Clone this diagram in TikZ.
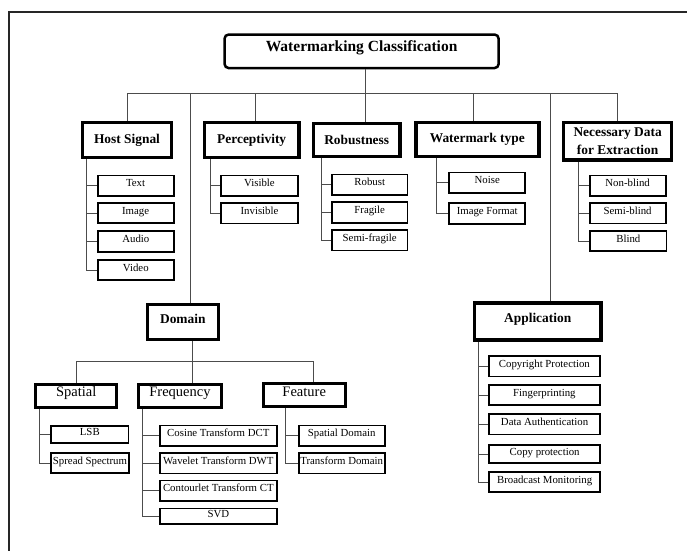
\documentclass[tikz,border=0pt]{standalone}
\usepackage{fontspec}
\setmainfont{Liberation Serif}

\begin{document}
\begin{tikzpicture}[x=1pt, y=-1pt,
    root/.style={draw=black, line width=2.5pt, rounded corners=4pt,
        minimum width=274pt, minimum height=33.5pt, inner sep=1pt,
        font=\fontsize{15.5}{18}\selectfont\bfseries, text height=5pt, text depth=5pt},
    head/.style={draw=black, line width=3.5pt, inner sep=1pt,
        font=\fontsize{13.4}{18}\selectfont\bfseries},
    sub/.style={draw=black, line width=3pt, inner sep=1pt, minimum height=23.5pt,
        font=\fontsize{14.5}{16}\selectfont, text height=5pt, text depth=3pt},
    leaf/.style={draw=black, line width=1.8pt, inner sep=1pt, minimum height=20.5pt,
        font=\fontsize{10.8}{12}\selectfont, text height=6pt, text depth=4pt},
    edge/.style={draw=black!70, line width=0.9pt},
    frame/.style={draw=black!85, line width=2.6pt}
]
    \useasboundingbox (0,0) rectangle (687,550);
    \draw[frame] (9,551) -- (9,12) -- (688,12);

    \node[root] (title) at (361.6,51.3) {Watermarking Classification};

    \node[head, minimum width=89pt, minimum height=35pt] (host) at (127,140) {Host Signal};
    \node[head, minimum width=94.5pt, minimum height=35pt] (perc) at (251.7,140) {Perceptivity};
    \node[head, minimum width=86.5pt, minimum height=33pt] (robust) at (356.7,140) {Robustness};
    \node[head, minimum width=123pt, minimum height=34pt] (wtype) at (477.3,139.5) {Watermark type};
    \node[head, minimum width=108pt, minimum height=37.5pt, align=center] (ndata) at (617.6,141.2) {Necessary Data\\for Extraction};
    \node[head, minimum width=71pt, minimum height=35pt, text depth=6.5pt] (domain) at (182.8,322) {Domain};
    \node[head, minimum width=126.5pt, minimum height=37pt, text depth=6.5pt] (app) at (537.7,321.3) {Application};

    \node[sub, minimum width=81pt] (spatial) at (76.3,395.8) {Spatial};
    \node[sub, minimum width=82.4pt] (freq) at (180,395.8) {Frequency};
    \node[sub, minimum width=82pt] (feature) at (304.2,395) {Feature};

    % host signal
    \node[leaf, minimum width=76pt] (text) at (135.6,185.7) {Text};
    \node[leaf, minimum width=76pt] (image) at (135.6,213) {Image};
    \node[leaf, minimum width=76pt] (audio) at (135.8,241.5) {Audio};
    \node[leaf, minimum width=76pt] (video) at (135.8,270) {Video};
    % perceptivity
    \node[leaf, minimum width=76.5pt] (visible) at (259.5,185.7) {Visible};
    \node[leaf, minimum width=76.5pt] (invisible) at (259.5,213.3) {Invisible};
    % robustness
    \node[leaf, minimum width=75.5pt] (rob) at (369.7,184.7) {Robust};
    \node[leaf, minimum width=75.5pt] (fragile) at (369.7,212.5) {Fragile};
    \node[leaf, minimum width=75.5pt] (semifrag) at (369.7,240.3) {Semi-fragile};
    % watermark type
    \node[leaf, minimum width=76pt] (noise) at (487.2,182.7) {Noise};
    \node[leaf, minimum width=76pt] (imgfmt) at (487.2,213.5) {Image Format};
    % necessary data
    \node[leaf, minimum width=76pt] (nonblind) at (627.6,185.7) {Non-blind};
    \node[leaf, minimum width=76pt] (semiblind) at (627.6,213.2) {Semi-blind};
    \node[leaf, minimum width=76.5pt] (blind) at (628.3,241) {Blind};
    % spatial
    \node[leaf, minimum width=77.5pt, minimum height=17.5pt] (lsb) at (89.8,434.5) {LSB};
    \node[leaf, minimum width=78pt, minimum height=20pt] (spread) at (90,463.3) {Spread Spectrum};
    % frequency
    \node[leaf, minimum width=117pt] (dct) at (218.3,435.8) {Cosine Transform DCT};
    \node[leaf, minimum width=117pt] (dwt) at (218.3,463.3) {Wavelet Transform DWT};
    \node[leaf, minimum width=117pt] (ct) at (218.3,490.8) {Contourlet Transform CT};
    \node[leaf, minimum width=117pt, minimum height=15.5pt] (svd) at (218.3,516.3) {SVD};
    % feature
    \node[leaf, minimum width=86pt] (spdom) at (341.7,435.8) {Spatial Domain};
    \node[leaf, minimum width=86pt] (trdom) at (341.7,463.3) {Transform Domain};
    % application
    \node[leaf, minimum width=111pt] (copyright) at (544.4,366.3) {Copyright Protection};
    \node[leaf, minimum width=111pt] (finger) at (544.4,395) {Fingerprinting};
    \node[leaf, minimum width=111pt] (dataauth) at (544.6,424.3) {Data Authentication};
    \node[leaf, minimum width=111pt, minimum height=18pt] (copyprot) at (544.6,454) {Copy protection};
    \node[leaf, minimum width=111pt] (broadcast) at (544.6,482) {Broadcast Monitoring};

    % top level
    \coordinate (hub) at (365.5,93);
    \draw[edge] (title.south -| hub) -- (hub);
    \draw[edge] (host.north |- hub) -- (ndata.north |- hub);
    \draw[edge] (host.north |- hub) -- (host.north);
    \draw[edge] ([xshift=3.5pt]perc.north |- hub) -- ([xshift=3.5pt]perc.north);
    \draw[edge] (hub) -- (hub |- robust.north);
    \draw[edge] ([xshift=-4pt]wtype.north |- hub) -- ([xshift=-4pt]wtype.north);
    \draw[edge] (ndata.north |- hub) -- (ndata.north);
    \draw[edge] ([xshift=8pt]domain.north |- hub) -- ([xshift=8pt]domain.north);
    \draw[edge] ([xshift=13pt]app.north |- hub) -- ([xshift=13pt]app.north);

    % domain
    \coordinate (dhub) at (192.7,361);
    \draw[edge] (dhub |- domain.south) -- (dhub);
    \draw[edge] (spatial.north) |- (dhub);
    \draw[edge] (dhub) -| ([xshift=9pt]feature.north);
    \draw[edge] (dhub) -- (dhub |- freq.north);

    % host signal tree
    \draw[edge] ([xshift=-10pt]text.west |- host.south) |- (video.west);
    \draw[edge] ([xshift=-10pt]text.west) -- (text.west);
    \draw[edge] ([xshift=-10pt]image.west) -- (image.west);
    \draw[edge] ([xshift=-10pt]audio.west) -- (audio.west);
    % perceptivity tree
    \draw[edge] ([xshift=-10pt]visible.west |- perc.south) |- (invisible.west);
    \draw[edge] ([xshift=-10pt]visible.west) -- (visible.west);
    % robustness tree
    \draw[edge] ([xshift=-10pt]rob.west |- robust.south) |- (semifrag.west);
    \draw[edge] ([xshift=-10pt]rob.west) -- (rob.west);
    \draw[edge] ([xshift=-10pt]fragile.west) -- (fragile.west);
    % watermark type tree
    \draw[edge] ([xshift=-12pt]noise.west |- wtype.south) |- (imgfmt.west);
    \draw[edge] ([xshift=-12pt]noise.west) -- (noise.west);
    % necessary data tree
    \draw[edge] ([xshift=-10pt]nonblind.west |- ndata.south) |- (blind.west);
    \draw[edge] ([xshift=-10pt]nonblind.west) -- (nonblind.west);
    \draw[edge] ([xshift=-10pt]semiblind.west) -- (semiblind.west);
    % spatial tree
    \draw[edge] ([xshift=-11pt]lsb.west |- spatial.south) |- (spread.west);
    \draw[edge] ([xshift=-11pt]lsb.west) -- (lsb.west);
    % frequency tree
    \draw[edge] ([xshift=-16pt]dct.west |- freq.south) |- (svd.west);
    \draw[edge] ([xshift=-16pt]dct.west) -- (dct.west);
    \draw[edge] ([xshift=-16pt]dwt.west) -- (dwt.west);
    \draw[edge] ([xshift=-16pt]ct.west) -- (ct.west);
    % feature tree
    \draw[edge] ([xshift=-12pt]spdom.west |- feature.south) |- (trdom.west);
    \draw[edge] ([xshift=-12pt]spdom.west) -- (spdom.west);
    % application tree
    \draw[edge] ([xshift=-10pt]copyright.west |- app.south) |- (broadcast.west);
    \draw[edge] ([xshift=-10pt]copyright.west) -- (copyright.west);
    \draw[edge] ([xshift=-10pt]finger.west) -- (finger.west);
    \draw[edge] ([xshift=-10pt]dataauth.west) -- (dataauth.west);
    \draw[edge] ([xshift=-10pt]copyprot.west) -- (copyprot.west);
\end{tikzpicture}
\end{document}
